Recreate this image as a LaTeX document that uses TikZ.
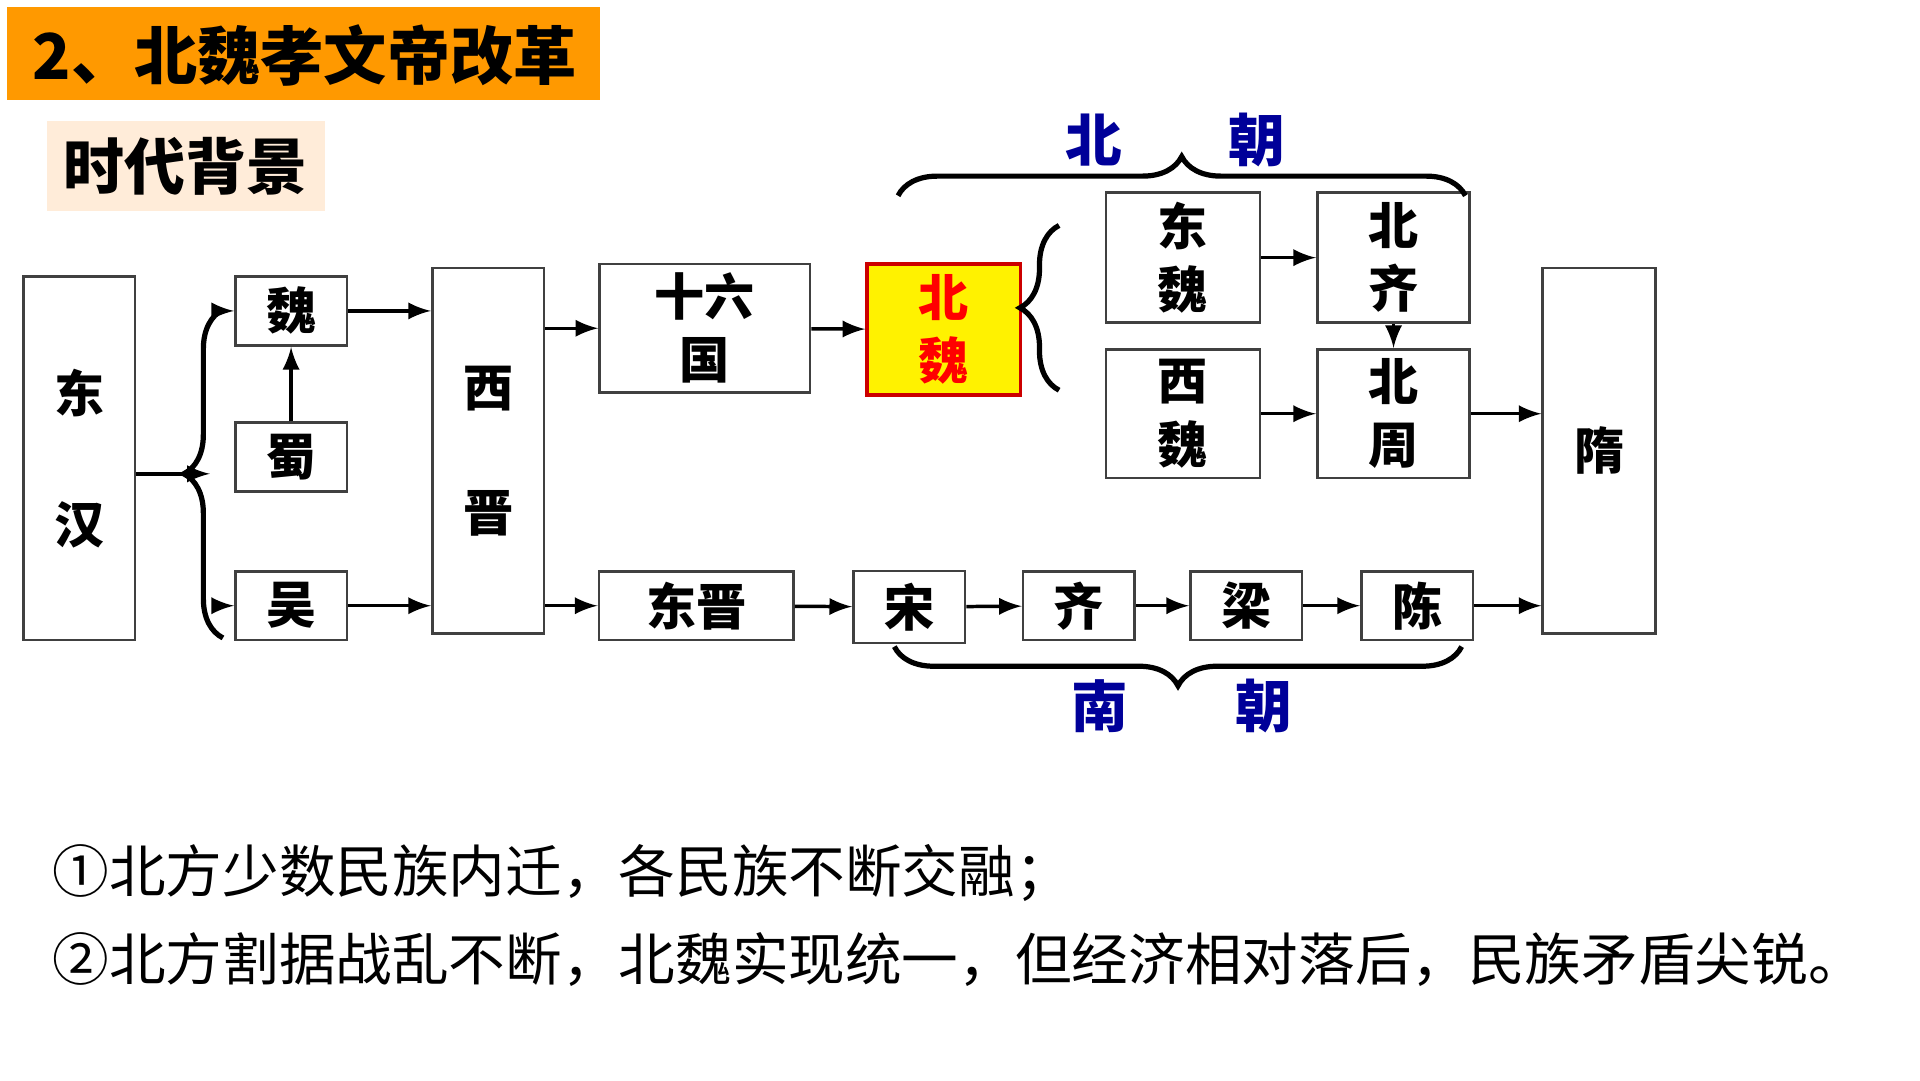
\documentclass[tikz,border=0pt]{standalone}
\usepackage{fontspec}
\setmainfont{Noto Sans CJK SC}
\usetikzlibrary{arrows.meta,decorations.pathreplacing}
\tikzset{>=latex}
\colorlet{chaoblue}{blue!60!black}
\tikzset{box/.style={draw=black!75,semithick,fill=white,inner sep=0,font=\fontsize{11.5}{14.5}\selectfont\bfseries,align=center},
  arr/.style={->,thick},
  brc/.style={decorate,decoration={brace,amplitude=9pt},very thick}}
\begin{document}
\begin{tikzpicture}[x=0.01cm,y=-0.01cm]
\useasboundingbox (0,0) rectangle (1550,872);
% title
\node[fill=orange!80!yellow,minimum width=4.78cm,minimum height=0.75cm,anchor=north west] (titlebg) at (5,5) {};
\node[anchor=west,font=\fontsize{14.5}{18}\selectfont\bfseries] (title) at (14,45) {2、北魏孝文帝改革};
\node[fill=orange!15,minimum width=2.24cm,minimum height=0.72cm,font=\fontsize{14}{17}\selectfont\bfseries] (bg) at (150,134) {时代背景};
% boxes
\node[box,minimum width=0.9cm,minimum height=2.93cm] (donghan) at (64,370) {东\\[0.55cm]汉};
\node[box,minimum width=0.9cm,minimum height=0.56cm] (wei) at (235,251) {魏};
\node[box,minimum width=0.9cm,minimum height=0.56cm] (shu) at (235,369) {蜀};
\node[box,minimum width=0.9cm,minimum height=0.55cm] (wu) at (235,489) {吴};
\node[box,minimum width=0.9cm,minimum height=2.95cm] (xijin) at (394,364) {西\\[0.5cm]晋};
\node[box,minimum width=1.7cm,minimum height=1.04cm] (sxg) at (569,265) {十六\\国};
\node[box,draw=red!80!black,thick,fill=yellow,text=red,minimum width=1.24cm,minimum height=1.06cm] (beiwei) at (762,266) {北\\魏};
\node[box,minimum width=1.24cm,minimum height=1.05cm] (dongwei) at (955,208) {东\\魏};
\node[box,minimum width=1.23cm,minimum height=1.05cm] (beiqi) at (1125,208) {北\\齐};
\node[box,minimum width=1.24cm,minimum height=1.04cm] (xiwei) at (955,334) {西\\魏};
\node[box,minimum width=1.23cm,minimum height=1.04cm] (beizhou) at (1125,334) {北\\周};
\node[box,minimum width=0.91cm,minimum height=2.95cm] (sui) at (1291,364) {隋};
\node[box,minimum width=1.57cm,minimum height=0.55cm] (dongjin) at (562,489) {东晋};
\node[box,minimum width=0.9cm,minimum height=0.58cm] (song) at (734,490) {宋};
\node[box,minimum width=0.9cm,minimum height=0.55cm] (qi) at (871,489) {齐};
\node[box,minimum width=0.9cm,minimum height=0.55cm] (liang) at (1006,489) {梁};
\node[box,minimum width=0.9cm,minimum height=0.55cm] (chen) at (1144,489) {陈};
% braces
\draw[brc] (180,515) -- (180,250) coordinate[pos=0.5] (fork);
\coordinate (forktop) at (176,251);
\coordinate (forkbot) at (176,489);
\draw[brc] (855,315) -- (855,182);
\draw[brc] (725,158) -- (1183,158);
\draw[brc] (1180,522) -- (722,522);
\node[font=\fontsize{13}{16}\selectfont\bfseries,text=chaoblue] (bei) at (883,113) {北};
\node[font=\fontsize{13}{16}\selectfont\bfseries,text=chaoblue] (chao1) at (1015,113) {朝};
\node[font=\fontsize{13}{16}\selectfont\bfseries,text=chaoblue] (nan) at (888,570) {南};
\node[font=\fontsize{13}{16}\selectfont\bfseries,text=chaoblue] (chao2) at (1020,570) {朝};
% arrows
\draw[arr] (donghan.east|-fork) -- ([xshift=-3pt]fork);
\draw[arr] (forktop) -- (wei.west);
\draw[arr] (forkbot) -- (wu.west);
\draw[arr] (shu) -- (wei);
\draw[arr] (wei.east) -- (xijin.west|-wei.east);
\draw[arr] (wu.east) -- (xijin.west|-wu.east);
\draw[arr] (xijin.east|-sxg) -- (sxg);
\draw[arr] (xijin.east|-dongjin) -- (dongjin);
\draw[arr] (sxg) -- (beiwei);
\draw[arr] (dongwei) -- (beiqi);
\draw[arr] (xiwei) -- (beizhou);
\draw[arr] (beiqi) -- (beizhou);
\draw[arr] (beizhou.east) -- (sui.west|-beizhou.east);
\draw[arr] (dongjin) -- (song);
\draw[arr] (song) -- (qi);
\draw[arr] (qi) -- (liang);
\draw[arr] (liang) -- (chen);
\draw[arr] (chen) -- (sui.west|-chen);
% notes
\node[anchor=west,font=\fontsize{13}{16}\selectfont] (note1) at (30,705) {①北方少数民族内迁，各民族不断交融；};
\node[anchor=west,font=\fontsize{13}{16}\selectfont] (note2) at (30,775) {②北方割据战乱不断，北魏实现统一，但经济相对落后，民族矛盾尖锐。};
\end{tikzpicture}
\end{document}
